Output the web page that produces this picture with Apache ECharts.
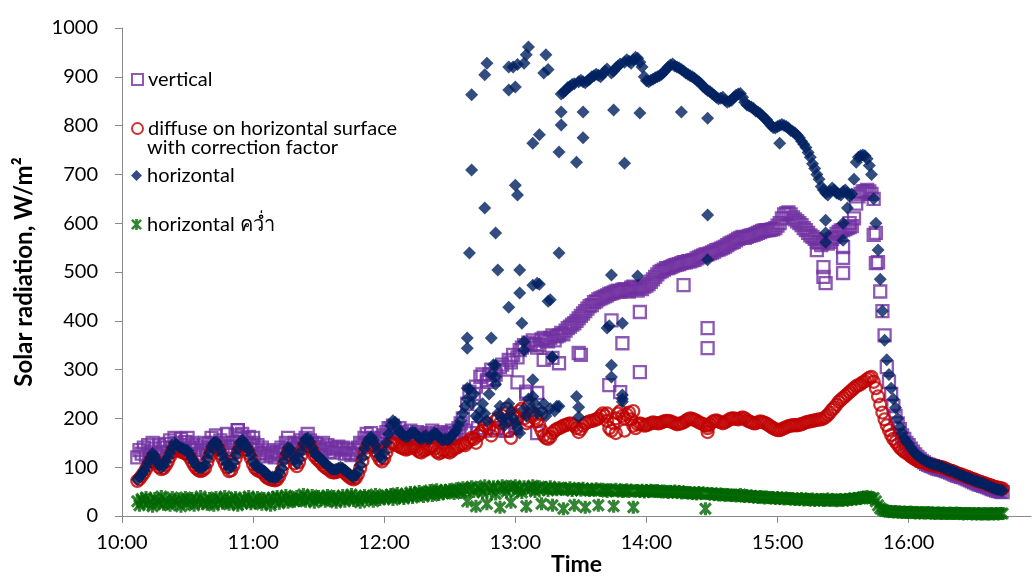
<!DOCTYPE html>
<html><head><meta charset="utf-8">
<script src="https://cdn.jsdelivr.net/npm/echarts@6/dist/echarts.min.js"></script>
<style>html,body{margin:0;padding:0;background:#fff}#c{width:1033px;height:577px}</style>
</head><body><div id="c"></div>
<script>
// readings once a minute, first reading at 10:07 (minutes after midnight)
const firstReadingMin = 607;
const readingStepMin = 1;

// rows: 10:07-10:09, then one row per 10 minutes (10:10, 10:20, ...), last row 16:40-16:43
const horizontal = [
75,80,86,
92,100,110,120,128,122,112,104,100,104,
112,120,130,140,150,146,142,140,138,136,
134,126,118,110,104,100,98,100,104,118,
130,142,150,152,145,135,125,115,106,98,
100,110,125,138,150,155,150,142,135,125,
112,104,100,98,96,92,86,82,80,80,
78,80,88,98,112,128,140,138,125,115,
108,118,132,148,158,160,152,140,130,124,
121,118,112,108,104,100,96,95,96,98,
100,98,94,90,86,82,80,84,92,104,
120,138,150,158,162,155,145,132,122,118,
130,150,168,185,195,192,180,172,168,165,
162,164,168,172,170,165,160,158,162,165,
158,160,165,170,168,162,158,155,158,156,
158,165,170,175,185,195,210,225,240,260,
230,250,205,200,215,230,210,195,250,290,
310,270,210,225,200,185,200,230,215,200,
190,180,170,395,220,205,240,220,245,230,
210,475,215,230,205,440,220,325,215,225,
225,865,868,872,878,880,884,886,245,890,
893,890,888,892,895,900,902,905,903,900,
905,912,916,390,908,912,918,922,926,240,
930,935,932,928,935,940,938,930,920,900,
892,890,893,895,898,900,902,905,910,915,
920,924,926,922,920,918,915,912,908,905,
902,900,897,893,890,885,880,876,872,870,
866,862,858,855,856,858,852,848,850,852,
858,862,865,866,858,848,842,840,838,835,
830,828,825,820,815,812,806,800,796,795,
798,800,802,800,798,795,790,788,785,780,
775,768,762,755,745,735,722,712,700,690,
675,668,662,658,665,672,668,662,660,658,
665,668,662,655,660,690,725,735,738,740,
738,732,718,700,650,600,545,485,420,360,
320,290,262,240,222,200,182,170,160,152,
148,140,134,128,124,121,118,115,112,110,
108,106,105,104,103,101,99,97,95,94,
92,90,88,86,84,82,80,78,77,75,
73,71,70,68,67,65,63,61,59,57,
55,54,53,52
];
const vertical = [
120,135,128,
140,125,145,132,150,138,128,145,130,140,
148,132,155,140,160,150,138,158,145,152,
160,140,150,135,145,128,140,135,150,132,
148,160,150,165,148,155,140,150,135,130,
142,150,165,176,160,168,158,150,162,145,
150,135,145,128,140,130,122,135,125,130,
120,132,128,140,135,150,160,145,138,150,
140,148,155,145,160,168,155,150,140,148,
142,135,150,138,145,132,140,130,138,142,
135,140,128,138,130,125,135,128,140,150,
145,160,168,158,170,160,150,155,148,160,
165,172,180,178,185,176,170,180,172,165,
160,168,175,158,165,172,160,168,155,165,
170,162,175,160,168,165,172,158,165,170,
168,175,160,170,180,190,200,175,230,255,
170,250,265,180,285,290,175,275,290,300,
280,290,180,305,310,175,300,320,315,330,
180,325,340,345,350,255,355,350,360,352,
345,350,362,365,360,358,365,370,360,368,
370,375,372,380,385,388,392,395,400,405,
410,415,420,425,430,432,438,440,444,446,
448,450,452,455,456,458,460,462,460,464,
465,462,460,468,470,466,462,468,465,470,
472,475,480,485,490,495,500,502,505,508,
508,510,512,514,515,516,518,520,520,522,
522,524,525,528,530,532,534,536,536,538,
540,542,545,546,548,550,552,555,558,560,
562,565,568,570,572,570,572,574,575,576,
578,580,582,584,585,586,586,587,588,590,
595,600,610,618,620,622,618,612,608,604,
600,596,590,586,580,575,572,568,562,560,
555,560,565,558,562,568,572,578,582,585,
586,588,590,592,594,610,640,655,660,665,
665,668,665,660,650,580,520,460,420,370,
305,275,250,225,205,190,178,165,158,150,
145,138,132,126,121,117,113,110,107,105,
103,101,99,97,96,95,94,92,91,89,
87,85,83,82,80,79,77,75,73,71,
69,67,65,64,62,61,59,57,55,54,
52,51,50,49
];
const diffuse = [
72,76,82,
88,96,104,112,120,116,108,100,96,98,
104,112,122,132,140,138,134,132,130,128,
126,120,112,104,98,94,92,94,98,110,
122,134,142,145,138,128,118,108,100,92,
94,104,118,130,142,146,142,136,128,118,
106,98,94,92,90,86,80,77,75,74,
73,75,82,92,105,120,132,130,118,108,
102,110,124,138,148,150,144,134,124,118,
114,110,104,100,97,94,90,89,90,92,
94,92,88,84,80,77,75,78,86,98,
112,128,140,146,148,142,134,124,116,112,
118,130,142,148,150,148,145,142,140,138,
136,138,140,142,140,136,132,130,134,136,
138,140,142,138,132,128,130,134,135,132,
130,134,138,140,142,145,148,145,150,155,
160,158,150,165,170,175,185,190,180,165,
175,195,200,190,205,210,195,175,200,210,
205,200,215,220,200,190,195,205,210,200,
195,185,175,165,160,158,162,170,175,178,
180,182,185,186,188,190,188,185,180,172,
178,185,190,192,194,195,196,198,200,205,
210,205,195,180,175,190,200,210,215,205,
200,208,212,198,185,180,188,190,188,185,
186,188,190,192,191,190,190,192,194,195,
195,194,192,190,188,189,190,192,195,198,
200,199,197,195,192,190,188,186,185,188,
192,195,196,194,192,190,192,195,198,200,
200,199,198,200,202,200,196,194,192,190,
190,192,194,193,191,189,186,183,180,178,
176,176,178,180,182,184,185,186,186,186,
187,188,190,192,193,194,195,196,197,198,
198,200,203,207,212,218,222,228,234,238,
242,246,250,254,258,262,266,268,270,274,
276,280,283,285,275,262,245,228,212,198,
186,176,166,158,152,146,140,136,132,129,
126,122,119,116,114,112,111,110,108,106,
105,104,103,102,101,100,99,97,95,93,
92,90,88,86,85,83,81,80,78,76,
75,73,71,70,68,67,65,63,62,60,
59,58,57,56
];
const horizontalInverted = [
30,22,35,
28,38,25,32,20,36,30,26,40,24,
34,28,22,38,30,26,35,20,32,38,
25,30,36,22,34,28,40,26,32,24,
36,30,22,38,28,34,26,40,30,24,
35,28,38,22,32,26,36,30,40,25,
33,27,38,30,24,36,28,34,22,38,
30,40,26,36,32,42,28,38,34,30,
40,32,36,44,30,38,34,42,28,36,
40,34,38,30,42,36,32,40,28,38,
34,42,30,38,36,44,32,40,34,28,
38,42,34,40,36,30,44,38,34,40,
36,42,38,44,34,40,46,38,42,36,
44,40,48,38,46,42,50,44,40,48,
46,52,42,48,54,44,50,46,52,48,
54,50,46,56,52,48,58,54,30,56,
60,50,20,58,55,48,62,25,56,52,
60,45,58,18,62,55,50,60,28,58,
62,52,56,48,60,20,58,55,62,50,
57,60,25,55,58,52,60,22,56,54,
58,55,15,56,54,58,52,22,55,56,
53,57,18,54,52,55,53,56,22,52,
55,53,50,54,52,20,55,51,53,50,
52,54,50,53,18,51,52,50,53,49,
52,50,53,51,50,52,50,49,51,50,
48,50,49,51,48,50,47,49,48,47,
48,46,47,45,48,46,47,15,46,45,
46,44,45,43,45,44,42,44,43,42,
43,41,42,44,41,40,42,40,41,39,
40,38,40,39,37,39,38,37,38,36,
38,36,37,35,37,36,35,36,34,35,
34,36,33,35,34,33,35,32,34,33,
34,32,33,35,32,34,33,31,33,34,
32,34,33,35,34,36,35,37,36,38,
39,40,38,36,37,30,22,16,13,11,
10,9,9,8,9,8,8,7,8,7,
7,8,7,6,7,6,7,6,6,7,
6,6,5,6,6,5,6,5,5,6,
5,5,6,5,5,4,5,5,5,4,
5,4,5,4,4,5,4,4,5,4,
5,4,5,5
];
// additional scattered readings (minutes after midnight, value)
const horizontalExtraTimes = [758,758,758,759,760,760,766,766,767,769,771,771,771,772,777,777,777,779,780,780,781,781,782,782,784,784,784,785,786,788,788,788,790,791,793,794,795,796,797,800,800,801,801,808,809,809,811,811,822,824,824,824,825,829,829,829,830,836,837,856,868,868,868,901,922,922,922,930,930,932];
const horizontalExtraValues = [365,344,262,539,863,709,904,631,928,365,309,285,580,504,920,873,428,920,879,678,925,658,504,457,928,357,340,945,961,764,473,279,477,781,908,945,915,443,326,746,539,828,801,725,223,203,828,775,385,494,309,285,832,395,248,234,723,492,826,828,617,815,525,764,606,580,561,600,565,631];
const verticalExtraTimes = [648,653,660,767,772,776,781,785,790,790,793,797,800,809,810,823,824,828,829,837,837,857,868,868,918,921,921,922,930,930,930,933,944,945];
const verticalExtraValues = [168,176,160,279,180,175,274,250,252,170,320,324,313,334,330,268,401,254,354,418,295,473,385,344,545,510,490,477,498,551,529,600,576,518];
const diffuseExtraTimes = [776,778,786,792,822,826,830,834,868,868];
const diffuseExtraValues = [220,160,225,210,210,170,175,215,172,180];

const xTickLabels = ['10:00','11:00','12:00','13:00','14:00','15:00','16:00'];
const seriesNames = ['vertical','diffuse on horizontal surface with correction factor','horizontal','horizontal คว่ำ'];

[horizontal, vertical, diffuse, horizontalInverted].forEach((a, i) => {
  if (a.length !== 397) throw new Error('series ' + i + ' length ' + a.length);
});

function pairs(v, et, ev) {
  const out = v.map((y, i) => [firstReadingMin + i * readingStepMin, y]);
  if (et) et.forEach((m, i) => out.push([m, ev[i]]));
  return out;
}

const FONT = 'Lato, "Noto Sans", sans-serif';
const starPath = 'path://M3.8 0H6.2V10H3.8Z M0 1.7L1.7 0L10 8.3L8.3 10Z M8.3 0L10 1.7L1.7 10L0 8.3Z';

const chart = echarts.init(document.getElementById('c'), null, {renderer: 'canvas'});
function leg(name, cy, fmt) {
  return {
    data: [name], orient: 'vertical', left: 126, top: cy - 10.5,
    itemWidth: 11, itemHeight: 11, selectedMode: false,
    textStyle: {fontFamily: FONT, fontSize: 20, color: '#000'},
    formatter: fmt || undefined
  };
}
chart.setOption({
  animation: false,
  backgroundColor: '#fff',
  grid: {left: 122, right: 2, top: 28, bottom: 61, containLabel: false, outerBoundsMode: 'none'},
  xAxis: {
    type: 'value', min: 600, max: 1016, interval: 60,
    name: 'Time', nameLocation: 'middle', nameGap: 37, nameMoveOverlap: false,
    nameTextStyle: {fontFamily: FONT, fontSize: 23, fontWeight: 'bold', color: '#000'},
    axisLine: {lineStyle: {color: '#898989', width: 1}},
    axisTick: {show: true, inside: false, length: 7, lineStyle: {color: '#898989'}},
    axisLabel: {
      fontFamily: FONT, fontSize: 20, color: '#000', margin: 17, showMaxLabel: false,
      formatter: v => (v % 60 === 0 ? xTickLabels[(v - 600) / 60] || '' : '')
    },
    splitLine: {show: false}
  },
  yAxis: {
    type: 'value', min: 0, max: 1000, interval: 100,
    name: 'Solar radiation, W/m²', nameLocation: 'middle', nameGap: 86, nameRotate: 90, nameMoveOverlap: false,
    nameTextStyle: {fontFamily: FONT, fontSize: 24, fontWeight: 'bold', color: '#000'},
    axisLine: {show: true, lineStyle: {color: '#898989', width: 1}},
    axisTick: {show: true, inside: false, length: 7, lineStyle: {color: '#898989'}},
    axisLabel: {fontFamily: FONT, fontSize: 20, color: '#000', margin: 24, formatter: v => String(v)},
    splitLine: {show: false}
  },
  legend: [
    leg(seriesNames[0], 75),
    leg(seriesNames[1], 124, () => 'diffuse on horizontal surface'),
    leg(seriesNames[2], 171),
    leg(seriesNames[3], 220)
  ],
  graphic: [{
    type: 'text', left: 147, top: 138,
    style: {text: 'with correction factor', font: '20px ' + FONT, fill: '#000'}
  }],
  series: [
    {
      name: seriesNames[0], type: 'scatter', symbol: 'rect', symbolSize: 12,
      itemStyle: {color: 'rgba(255,255,255,0)', borderColor: '#7030A0', borderWidth: 2.3},
      data: pairs(vertical, verticalExtraTimes, verticalExtraValues)
    },
    {
      name: seriesNames[1], type: 'scatter', symbol: 'circle', symbolSize: 12,
      itemStyle: {color: 'rgba(255,255,255,0)', borderColor: '#C00000', borderWidth: 2.3},
      data: pairs(diffuse, diffuseExtraTimes, diffuseExtraValues)
    },
    {
      name: seriesNames[2], type: 'scatter', symbol: 'diamond', symbolSize: 13,
      itemStyle: {color: '#002060'},
      data: pairs(horizontal, horizontalExtraTimes, horizontalExtraValues)
    },
    {
      name: seriesNames[3], type: 'scatter', symbol: starPath, symbolSize: 13,
      itemStyle: {color: '#006600'},
      data: pairs(horizontalInverted)
    }
  ]
});
</script></body></html>
